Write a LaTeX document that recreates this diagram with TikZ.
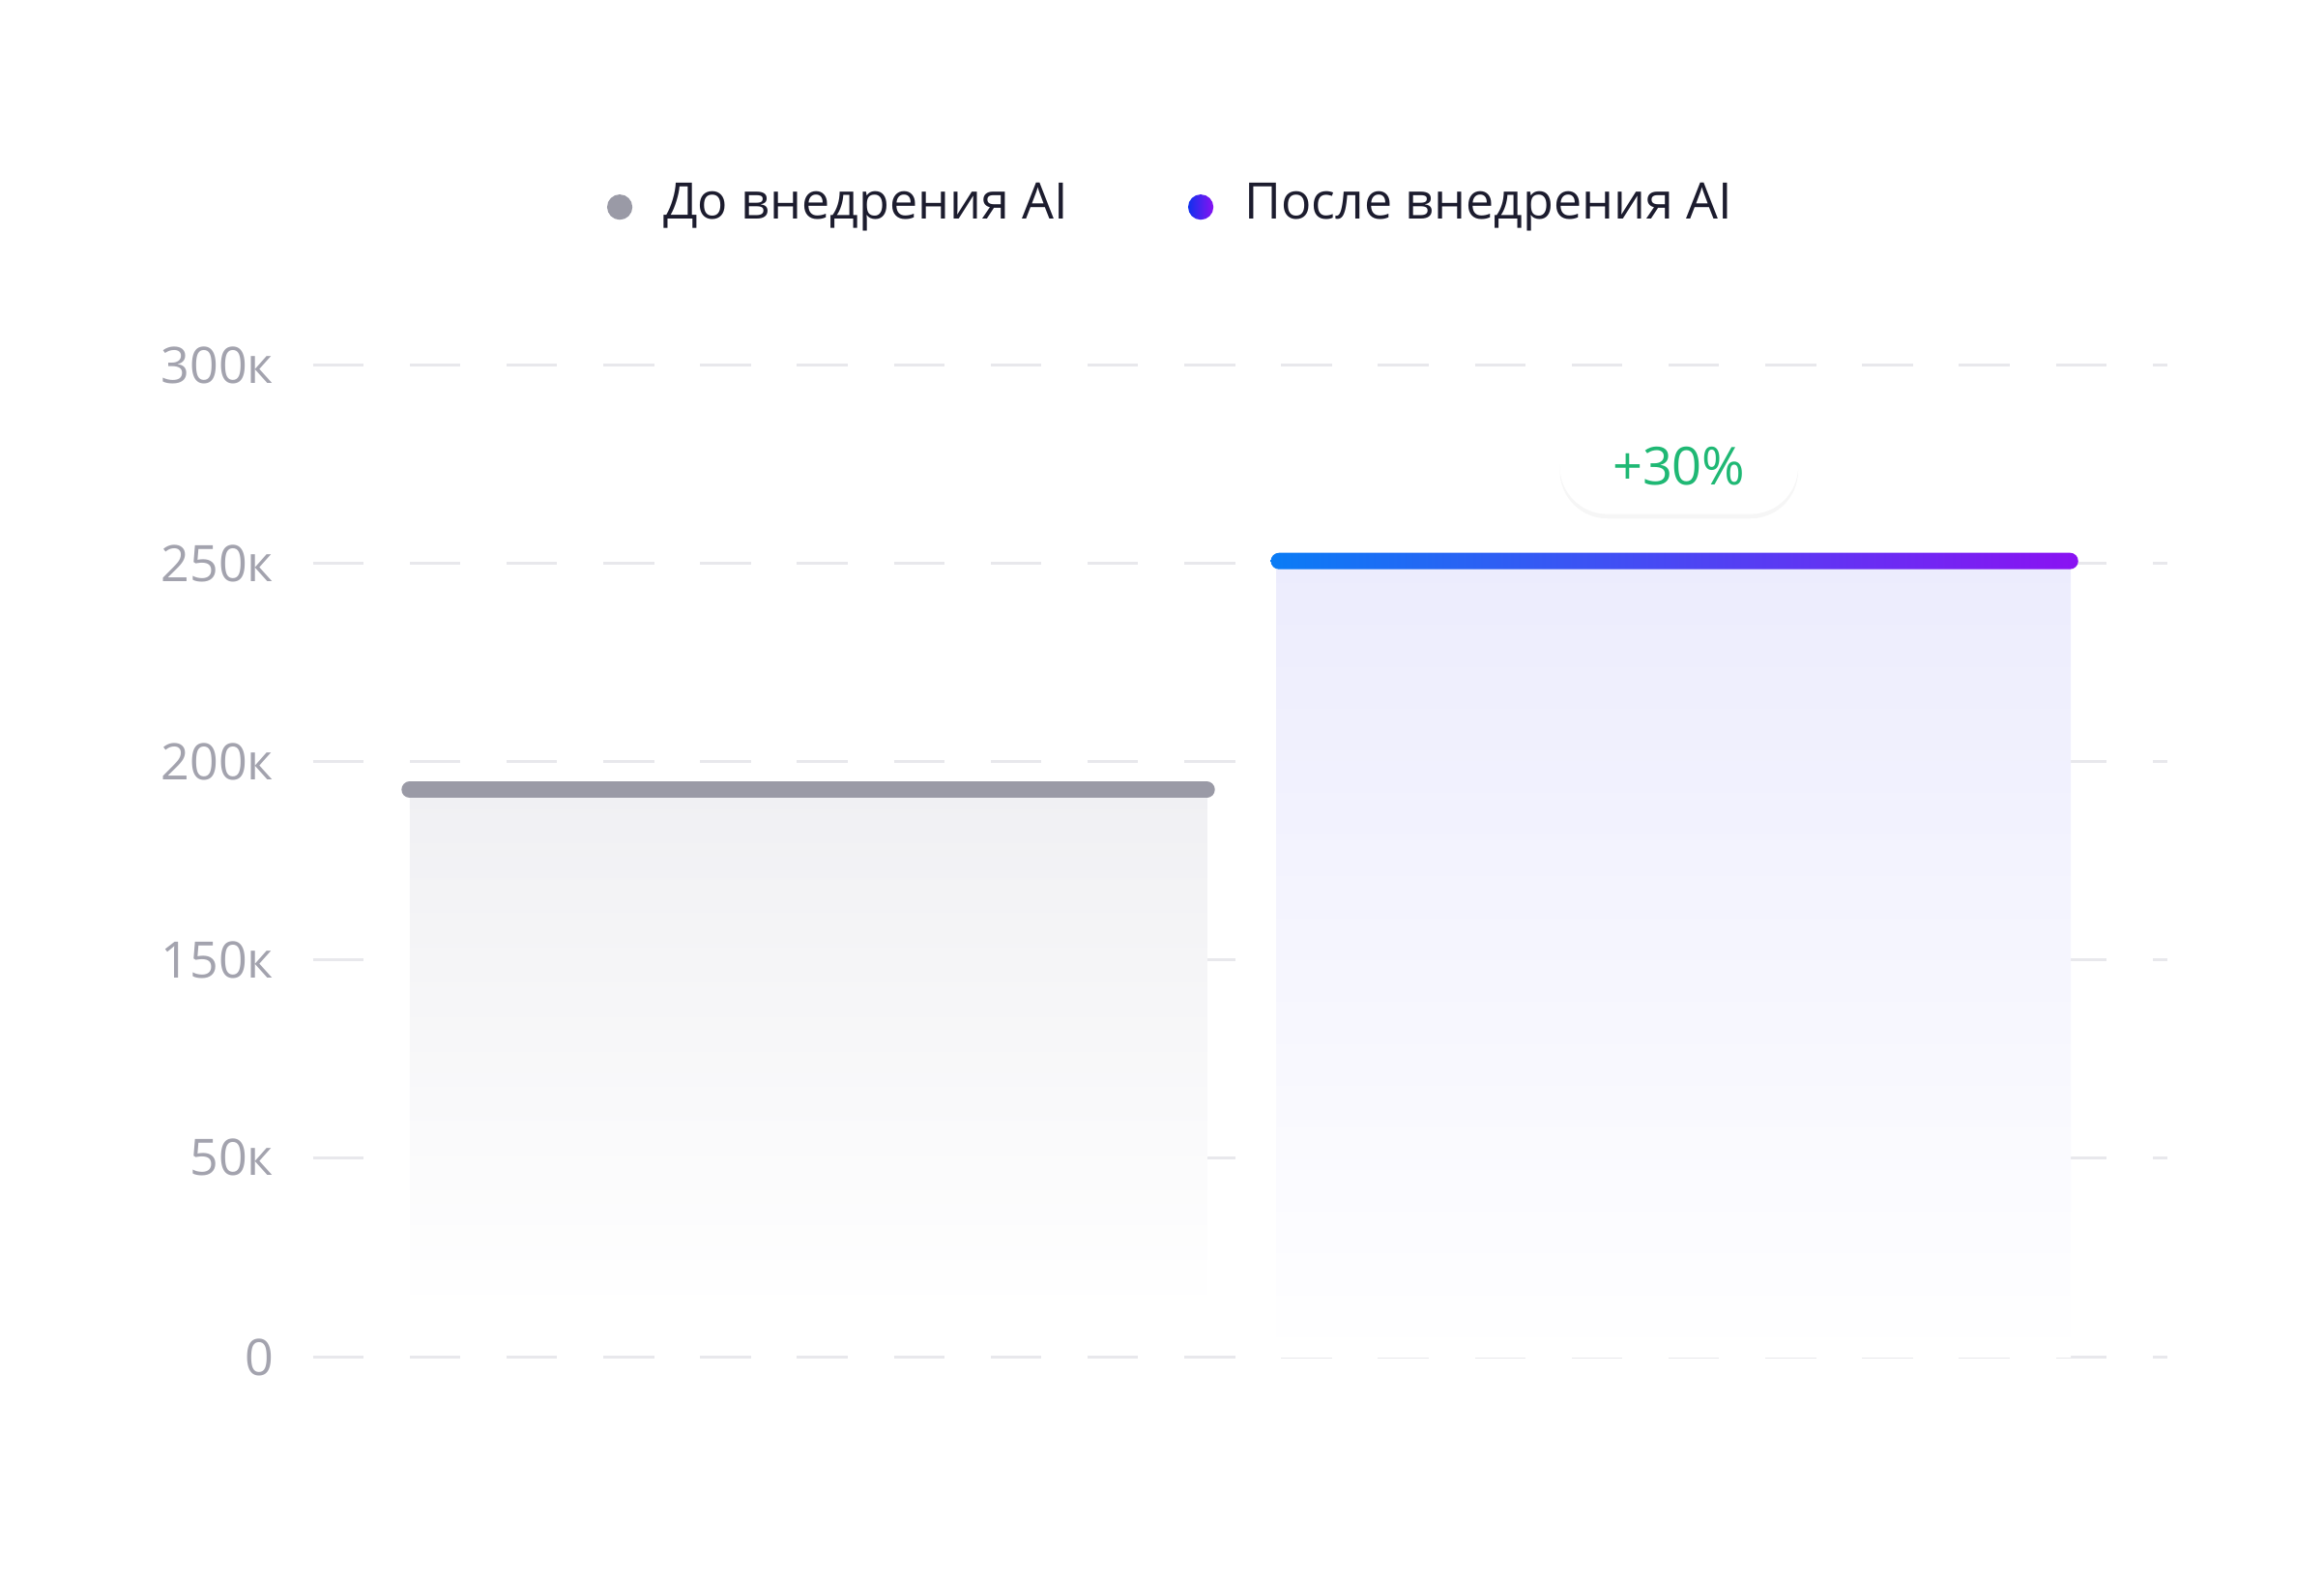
\documentclass[tikz,border=0pt]{standalone}
\usepackage{fontspec}
\setmainfont{Open Sans}
\usetikzlibrary{positioning,shadows}
\definecolor{gridgray}{HTML}{E8E8EC}
\definecolor{labelgray}{HTML}{A3A3AE}
\definecolor{bargray}{HTML}{9A9AA6}
\definecolor{inkdark}{HTML}{1C1C2E}
\definecolor{lineblue}{HTML}{0A7CF5}
\definecolor{linemid}{HTML}{1030EE}
\definecolor{linepurple}{HTML}{8A12F2}
\definecolor{fillblue}{HTML}{ECECFD}
\definecolor{fillgray}{HTML}{F0F0F3}
\definecolor{gaingreen}{HTML}{1FB874}
\tikzset{
  axislabel/.style={anchor=east, text=labelgray, font=\fontsize{9.6}{11}\selectfont},
  legendtext/.style={anchor=west, text=inkdark, font=\fontsize{9.6}{11}\selectfont},
  gridline/.style={gridgray, line width=0.6pt, dash pattern=on 0.34cm off 0.31cm},
}
\begin{document}
\begin{tikzpicture}
\useasboundingbox (0,0) rectangle (15.6,10.6);

% grid
\foreach \y/\t in {8.15/300к, 6.82/250к, 5.49/200к, 4.16/150к, 2.83/50к, 1.49/0}{
  \draw[gridline] (2.1,\y) -- (14.55,\y);
  \node[axislabel] at (1.96,\y) {\t};
}

% bars
\shade[top color=fillgray, bottom color=white] (2.75,1.8) rectangle (8.1,5.29);
\draw[bargray, line width=0.11cm, line cap=round] (2.75,5.3) -- (8.1,5.3);
\shade[top color=fillblue, bottom color=white] (8.57,1.49) rectangle (13.9,6.83);
\shade[left color=lineblue, middle color=linemid, right color=linepurple, rounded corners=0.055cm]
  (8.53,6.78) rectangle (13.95,6.89);

% badge
\node[fill=white, rounded corners=0.32cm, minimum width=1.6cm, minimum height=0.64cm,
  drop shadow={opacity=0.07, shadow xshift=0pt, shadow yshift=-0.03cm},
  text=gaingreen, font=\fontsize{10}{12}\selectfont] (gain) at (11.27,7.47) {+30\%};

% legend
\fill[bargray] (4.16,9.21) circle (0.085);
\node[legendtext] (before) at (4.33,9.21) {До внедрения AI};
\shade[left color=linemid, right color=linepurple] (8.06,9.21) circle (0.085);
\node[legendtext] (after) at (8.23,9.21) {После внедрения AI};
\end{tikzpicture}
\end{document}
